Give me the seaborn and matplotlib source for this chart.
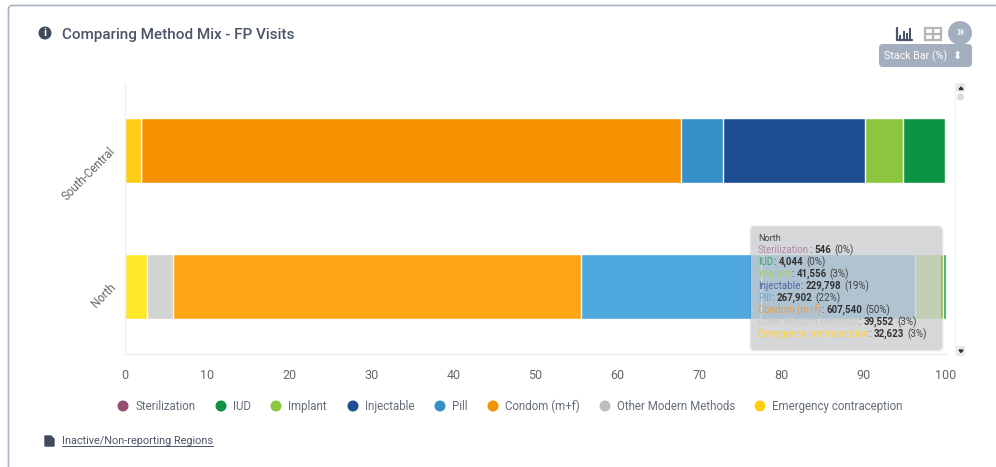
import numpy as np
import matplotlib
matplotlib.use("Agg")
import matplotlib.pyplot as plt
import seaborn as sns
from matplotlib.patches import Circle, FancyBboxPatch, Rectangle
from matplotlib.transforms import ScaledTranslation

# Data
regions = ["South-Central", "North"]
methods = ["Sterilization", "IUD", "Implant", "Injectable", "Pill", "Condom (m+f)",
           "Other Modern Methods", "Emergency contraception"]
legend_colors = ["#954F72", "#0A9444", "#8CC63F", "#1C4D91", "#368FC7", "#F59100", "#BDBDBD", "#FFCE14"]
north_colors = ["#A860A0", "#1DAA55", "#A8DD59", "#4EA8DE", "#4EA8DE", "#FFA514", "#D3D3D3", "#FFE82A"]
tooltip_colors = ["#B088A8", "#3FA868", "#A5D070", "#4A68A0", "#60AADC", "#F59A3A", "#C8C8C8", "#FFD040"]
south_pct = [0.1, 5.15, 4.65, 17.25, 5.15, 65.7, 0.0, 2.0]
north_counts = [546, 4044, 41556, 229798, 267902, 607540, 39552, 32623]
north_pct_label = [0, 0, 3, 19, 22, 50, 3, 3]
x_ticks = [0, 10, 20, 30, 40, 50, 60, 70, 80, 90, 100]

north_pct = 100 * np.array(north_counts) / sum(north_counts)

sns.set_theme(style="white")
plt.rcParams["font.family"] = ["Roboto", "DejaVu Sans"]

W, H = 996, 467
fig = plt.figure(figsize=(W / 100, H / 100), dpi=100, facecolor="white")
ax = fig.add_axes([125 / W, 1 - 354 / H, 821 / W, 271 / H])

# stacked bars, longest cumulative first so shorter ones sit on top
for i in range(len(methods)):
    cum = [sum(south_pct[i:]), sum(north_pct[i:])]
    sns.barplot(x=cum, y=regions, hue=regions, order=regions, hue_order=regions,
                palette={"South-Central": legend_colors[i], "North": north_colors[i]},
                saturation=1, width=0.48, dodge=False, legend=False, ax=ax)

ax.set_xlim(0, 100)
ax.set_ylim(1.5, -0.5)
ax.set_xticks(x_ticks)
ax.set_xlabel("")
ax.set_ylabel("")
ax.tick_params(axis="x", length=0, pad=11, labelsize=9, labelcolor="#666666")
ax.tick_params(axis="y", length=0, pad=9, labelsize=8.3, labelcolor="#666666")
for lab in ax.get_yticklabels():
    lab.set_rotation(45)
    lab.set_ha("right")
    lab.set_rotation_mode("anchor")
    lab.set_transform(lab.get_transform() + ScaledTranslation(0, 2 / 100, fig.dpi_scale_trans))
sns.despine(ax=ax, top=True, right=True)
ax.spines["left"].set_color("#EFEFEF")
ax.spines["bottom"].set_color("#EFEFEF")
ax.spines["left"].set_linewidth(1)
ax.spines["bottom"].set_linewidth(1)

# overlay in pixel coordinates for the page furniture
ov = fig.add_axes([0, 0, 1, 1], zorder=5)
ov.set_xlim(0, W)
ov.set_ylim(H, 0)
ov.axis("off")
ov.patch.set_alpha(0)

ov.add_patch(FancyBboxPatch((8.5, 5.5), 1100, 600, boxstyle="round,pad=0,rounding_size=4",
                            fc="none", ec="#A9B4C4", lw=1.2))

# header
ov.add_patch(Circle((45, 33), 6.5, fc="#3F4B5C", ec="none"))
ov.text(45, 33.5, "i", color="white", fontsize=8, fontweight="bold", ha="center", va="center")
ov.text(62.5, 34.5, "Comparing Method Mix - FP Visits", color="#4A5568", fontsize=11,
        fontweight="medium", va="center")

# chart type icons
ov.plot([896.5, 896.5, 912], [28, 39.5, 39.5], color="#4A5568", lw=1.6)
for bx, bt in zip([899, 902.5, 905.5, 908.5], [35, 31, 33, 28]):
    ov.add_patch(Rectangle((bx, bt), 2.1, 38.5 - bt, fc="#4A5568", ec="none"))
ov.add_patch(Rectangle((925, 28), 16, 12, fc="none", ec="#B5B5B5", lw=1.6))
ov.plot([925, 941], [34, 34], color="#B5B5B5", lw=1.6)
ov.plot([933, 933], [28, 40], color="#B5B5B5", lw=1.6)
ov.add_patch(Circle((960, 33), 12, fc="#A3AFBE", ec="none"))
ov.text(960, 32, "»", color="white", fontsize=11, fontweight="bold", ha="center", va="center")
ov.add_patch(FancyBboxPatch((879, 44), 93, 23, boxstyle="round,pad=0,rounding_size=4",
                            fc="#A3AFBE", ec="none"))
ov.text(884, 56, "Stack Bar (%)", color="white", fontsize=7.7, va="center")
ov.text(957, 56, "⬍", color="white", fontsize=8, ha="center", va="center",
        family=["DejaVu Sans"])

# scrollbar
ov.plot([955, 955], [83, 354], color="#F3F3F3", lw=1)
ov.add_patch(Rectangle((956, 83), 9, 9, fc="#E6E9EE", ec="none"))
ov.fill([959, 963, 961], [89.5, 89.5, 87], color="#333333")
ov.add_patch(Circle((960.5, 97), 3.6, fc="#D5DCE6", ec="none"))
ov.add_patch(Rectangle((956, 346), 9, 10, fc="#E6E9EE", ec="none"))
ov.fill([959, 963, 961], [350, 350, 352.5], color="#333333")

# legend
legend_x = [123, 221, 276, 353, 440, 493, 605, 760]
for name, color, lx in zip(methods, legend_colors, legend_x):
    ov.add_patch(Circle((lx, 406), 5.5, fc=color, ec="none"))
    ov.text(lx + 12, 406.5, name, color="#666E7A", fontsize=8.3, va="center")

# footer link
ov.fill([45, 51, 54, 54, 45], [436, 436, 439, 446, 446], color="#3F4B5C")
ov.text(61.5, 441, "Inactive/Non-reporting Regions", color="#4A5568", fontsize=7.8, va="center")
ov.plot([61.5, 213], [446, 446], color="#4A5568", lw=0.7)

# hover tooltip, soft shadow first
for grow, a in zip([3, 2, 1], [0.05, 0.08, 0.12]):
    ov.add_patch(FancyBboxPatch((751 - grow + 1, 226 - grow + 2), 190 + 2 * grow - 1, 122 + 2 * grow - 1,
                                boxstyle=f"round,pad=0,rounding_size={3 + grow}",
                                fc="#555555", ec="none", alpha=a))
ov.add_patch(FancyBboxPatch((751, 226), 190, 122, boxstyle="round,pad=0,rounding_size=3",
                            fc="#D6D7DA", ec="none", alpha=0.72))
ov.text(758, 238.5, "North", color="#444444", fontsize=6.6, va="center")
renderer = fig.canvas.get_renderer()
for k, name in enumerate(methods):
    y = 250 + k * 12
    cur = 758
    pieces = [(name, tooltip_colors[k], "normal"),
              (":", "#444444", "normal"),
              (f"{north_counts[k]:,}", "#333333", "bold"),
              (f"({north_pct_label[k]}%)", "#444444", "normal")]
    for j, (txt, col, weight) in enumerate(pieces):
        t = ov.text(cur, y, txt, color=col, fontsize=7.0, fontweight=weight, va="center")
        cur = t.get_window_extent(renderer).x1 + (0.3 if j == 0 else 3)

fig.savefig("out.png", dpi=100)
